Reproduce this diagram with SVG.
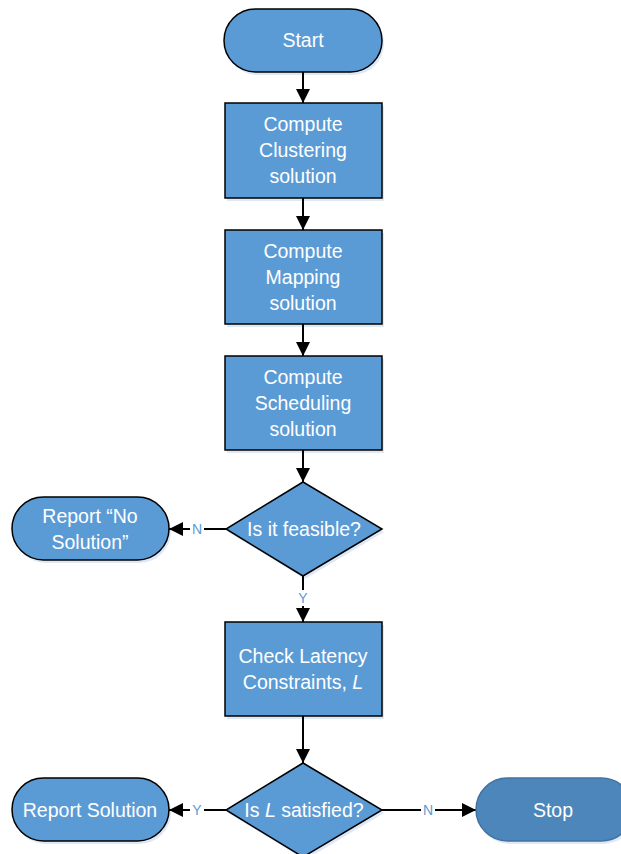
<svg xmlns="http://www.w3.org/2000/svg" width="621" height="854" viewBox="0 0 621 854">
  <style>
    .shape { fill: #5b9bd5; stroke: #000; stroke-width: 1.5; }
    .stop { fill: #4d86ba; stroke: #4272a0; stroke-width: 1.5; }
    .shadow { fill: #dfe9f5; }
    .label { font-family: "Liberation Sans", Arial, sans-serif; font-size: 19.5px; fill: #fff; text-anchor: middle; }
    .edge { stroke: #000; stroke-width: 2; fill: none; }
    .tag { font-family: "Liberation Sans", Arial, sans-serif; font-size: 14px; fill: #5b9bd5; text-anchor: middle; }
    .tagbg { fill: #fff; }
  </style>
  <defs>
    <marker id="arrow" markerUnits="userSpaceOnUse" markerWidth="16" markerHeight="16" viewBox="0 0 16 16" refX="15" refY="8" orient="auto">
      <path d="M1,1 L15,8 L1,15 Z" fill="#000"/>
    </marker>
  </defs>
  <rect width="621" height="854" fill="#fff"/>

  <!-- drop shadows sit beneath everything -->
  <g id="shadows">
    <rect class="shadow" x="226" y="12" width="158" height="63" rx="31.5"/>
    <rect class="shadow" x="227" y="106" width="157" height="95"/>
    <rect class="shadow" x="227" y="233" width="157" height="94"/>
    <rect class="shadow" x="227" y="359" width="157" height="94"/>
    <polygon class="shadow" points="305,485 384,532 305,579 228,532"/>
    <rect class="shadow" x="14" y="500" width="157" height="63" rx="31.5"/>
    <rect class="shadow" x="227" y="625" width="157" height="94"/>
    <polygon class="shadow" points="305,766 384,813 305,860 228,813"/>
    <rect class="shadow" x="14" y="781" width="157" height="63" rx="31.5"/>
    <rect class="shadow" x="478" y="781" width="157" height="63" rx="31.5"/>
  </g>

  <!-- connectors -->
  <g id="connectors">
    <line class="edge" x1="303" y1="72" x2="303" y2="103" marker-end="url(#arrow)"/>
    <line class="edge" x1="303" y1="198" x2="303" y2="230" marker-end="url(#arrow)"/>
    <line class="edge" x1="303" y1="324" x2="303" y2="356" marker-end="url(#arrow)"/>
    <line class="edge" x1="303" y1="450" x2="303" y2="482" marker-end="url(#arrow)"/>
    <line class="edge" x1="226" y1="529" x2="169" y2="529" marker-end="url(#arrow)"/>
    <rect class="tagbg" x="190" y="521" width="14" height="16"/>
    <text class="tag" x="197" y="534">N</text>
    <line class="edge" x1="303" y1="576" x2="303" y2="622" marker-end="url(#arrow)"/>
    <rect class="tagbg" x="296" y="590" width="14" height="16"/>
    <text class="tag" x="303" y="603">Y</text>
    <line class="edge" x1="303" y1="716" x2="303" y2="763" marker-end="url(#arrow)"/>
    <line class="edge" x1="226" y1="810" x2="169" y2="810" marker-end="url(#arrow)"/>
    <rect class="tagbg" x="190" y="802" width="14" height="16"/>
    <text class="tag" x="197" y="815">Y</text>
    <line class="edge" x1="382" y1="810" x2="476" y2="810" marker-end="url(#arrow)"/>
    <rect class="tagbg" x="421" y="802" width="14" height="16"/>
    <text class="tag" x="428" y="815">N</text>
  </g>

  <g id="start">
    <rect class="shape" x="224" y="9" width="158" height="63" rx="31.5"/>
    <text class="label" x="303" y="47">Start</text>
  </g>

  <g id="clustering">
    <rect class="shape" x="225" y="103" width="157" height="95"/>
    <text class="label" x="303" y="131">Compute</text>
    <text class="label" x="303" y="157">Clustering</text>
    <text class="label" x="303" y="183">solution</text>
  </g>

  <g id="mapping">
    <rect class="shape" x="225" y="230" width="157" height="94"/>
    <text class="label" x="303" y="258">Compute</text>
    <text class="label" x="303" y="284">Mapping</text>
    <text class="label" x="303" y="310">solution</text>
  </g>

  <g id="scheduling">
    <rect class="shape" x="225" y="356" width="157" height="94"/>
    <text class="label" x="303" y="384">Compute</text>
    <text class="label" x="303" y="410">Scheduling</text>
    <text class="label" x="303" y="436">solution</text>
  </g>

  <g id="feasible">
    <polygon class="shape" points="303,482 382,529 303,576 226,529"/>
    <text class="label" x="304" y="536">Is it feasible?</text>
  </g>

  <g id="no-solution">
    <rect class="shape" x="12" y="497" width="157" height="63" rx="31.5"/>
    <text class="label" x="90" y="523">Report “No</text>
    <text class="label" x="90" y="549">Solution”</text>
  </g>

  <g id="latency">
    <rect class="shape" x="225" y="622" width="157" height="94"/>
    <text class="label" x="303" y="663">Check Latency</text>
    <text class="label" x="303" y="689">Constraints, <tspan font-style="italic">L</tspan></text>
  </g>

  <g id="satisfied">
    <polygon class="shape" points="303,763 382,810 303,857 226,810"/>
    <text class="label" x="304" y="817">Is <tspan font-style="italic">L</tspan> satisfied?</text>
  </g>

  <g id="report-solution">
    <rect class="shape" x="12" y="778" width="157" height="63" rx="31.5"/>
    <text class="label" x="90" y="817">Report Solution</text>
  </g>

  <g id="stop">
    <rect class="stop" x="476" y="778" width="157" height="63" rx="31.5"/>
    <text class="label" x="553" y="817">Stop</text>
  </g>
</svg>
